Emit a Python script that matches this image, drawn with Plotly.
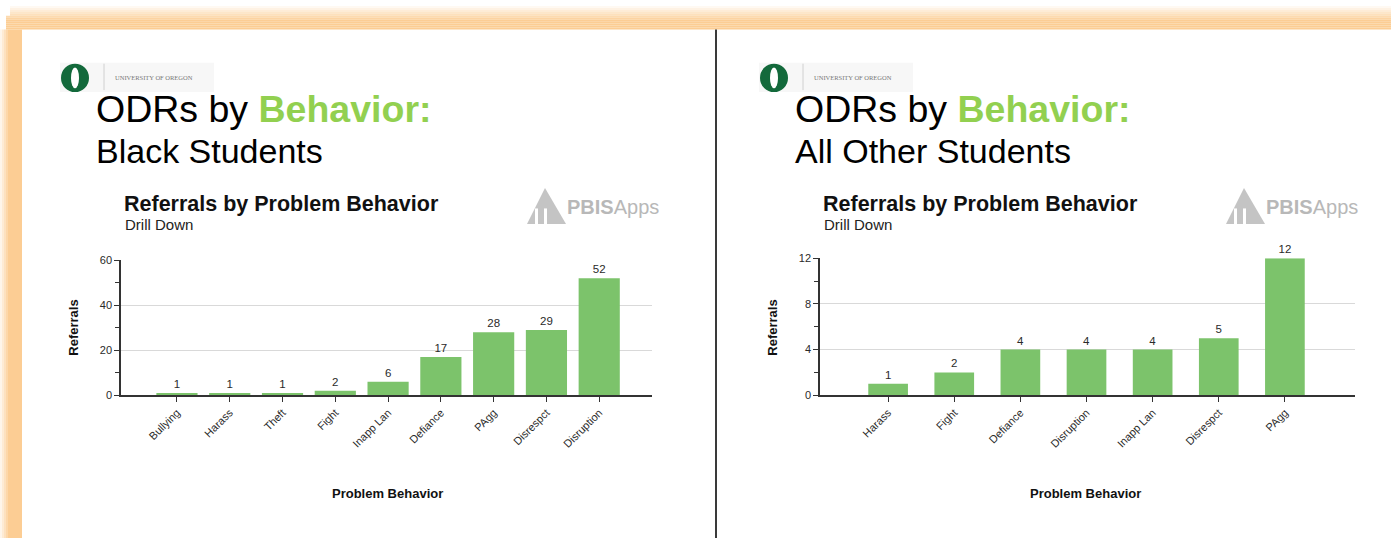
import plotly.graph_objects as go

W, H = 1391, 544

# ---- data ----
black_categories = ["Bullying", "Harass", "Theft", "Fight", "Inapp Lan", "Defiance", "PAgg", "Disrespct", "Disruption"]
black_referrals = [1, 1, 1, 2, 6, 17, 28, 29, 52]
black_yticks = [0, 20, 40, 60]

other_categories = ["Harass", "Fight", "Defiance", "Disruption", "Inapp Lan", "Disrespct", "PAgg"]
other_referrals = [1, 2, 4, 4, 4, 5, 12]
other_yticks = [0, 4, 8, 12]

FONT = "Arial, 'Liberation Sans', sans-serif"
BAR = "#7cc36b"
TXT = "#2a2a2a"
AX = "#333333"


def px(x):
    return x / W


def py(y):
    return 1 - y / H


fig = go.Figure()

fig.add_trace(go.Bar(
    x=black_categories, y=black_referrals, xaxis="x", yaxis="y",
    marker=dict(color=BAR, line=dict(width=0)), width=0.78,
    texttemplate="%{y}", textposition="outside", cliponaxis=False,
    textfont=dict(size=11.5, color=TXT, family=FONT), showlegend=False,
))
fig.add_trace(go.Bar(
    x=other_categories, y=other_referrals, xaxis="x2", yaxis="y2",
    marker=dict(color=BAR, line=dict(width=0)), width=0.6,
    texttemplate="%{y}", textposition="outside", cliponaxis=False,
    textfont=dict(size=11.5, color=TXT, family=FONT), showlegend=False,
))


def xax(domain, cats, rng):
    return dict(
        domain=domain, type="category", categoryorder="array", categoryarray=cats,
        range=rng, showline=True, linecolor=AX, linewidth=1.5, ticks="outside",
        ticklen=5, tickcolor=AX, tickwidth=1.2, tickangle=-45, showgrid=False,
        tickfont=dict(size=11, color=TXT, family=FONT), zeroline=False, fixedrange=True,
    )


def yax(domain, anchor, rng, ticks, minor_dt):
    return dict(
        domain=domain, anchor=anchor, range=rng, tickvals=ticks, showgrid=True,
        gridcolor="#d9d9d9", gridwidth=1, showline=True, linecolor=AX, linewidth=1.5,
        ticks="outside", ticklen=5, tickcolor=AX, tickwidth=1.2, zeroline=False,
        tickfont=dict(size=11, color=TXT, family=FONT),
        minor=dict(dtick=minor_dt, ticks="outside", ticklen=4, tickcolor=AX, showgrid=False),
        fixedrange=True,
    )


layout = dict(
    width=W, height=H, margin=dict(l=0, r=0, t=0, b=0),
    paper_bgcolor="white", plot_bgcolor="white", bargap=0.2,
    font=dict(family=FONT, color=TXT),
    xaxis=xax([px(121), px(652)], black_categories, [-1.06, 9.0]),
    yaxis=yax([py(398), py(260)], "x", [0, 60], black_yticks, 10),
    xaxis2=xax([px(820), px(1355)], other_categories, [-1.03, 7.06]),
    yaxis2=yax([py(398), py(258)], "x2", [0, 12], other_yticks, 2),
)
layout["xaxis"]["anchor"] = "y"
layout["xaxis2"]["anchor"] = "y2"
fig.update_layout(**layout)

shapes = []
anns = []

# ---- orange frame (gradient) ----
ORANGE = (252, 205, 148)
n = 12
for i in range(n):
    a = min(1.0, (i + 1) / 8)
    y0 = i * 2
    shapes.append(dict(type="rect", xref="paper", yref="paper", layer="above",
                       x0=px(10 if i < 5 else 6), x1=1, y0=py(y0 + 2), y1=py(y0),
                       fillcolor=f"rgba({ORANGE[0]},{ORANGE[1]},{ORANGE[2]},{a:.3f})",
                       line=dict(width=0)))
for i in range(11):
    a = min(1.0, (i + 1) / 5)
    x0 = i * 2
    shapes.append(dict(type="rect", xref="paper", yref="paper", layer="above",
                       x0=px(x0), x1=px(x0 + 2), y0=0, y1=py(24),
                       fillcolor=f"rgba({ORANGE[0]},{ORANGE[1]},{ORANGE[2]},{a:.3f})",
                       line=dict(width=0)))

# divider between slides
shapes.append(dict(type="line", xref="paper", yref="paper", x0=px(716), x1=px(716),
                   y0=0, y1=py(24), line=dict(color="#3a3a3a", width=2)))


def slide(ox, title2, chart_cx):
    # UO logo
    shapes.append(dict(type="rect", xref="paper", yref="paper", x0=px(ox + 60), x1=px(ox + 214),
                       y0=py(88), y1=py(58), fillcolor="#f7f7f7", line=dict(width=0), layer="below"))
    shapes.append(dict(type="circle", xref="paper", yref="paper", x0=px(ox + 61), x1=px(ox + 89),
                       y0=py(88), y1=py(59), fillcolor="#13693b", line=dict(width=0)))
    shapes.append(dict(type="circle", xref="paper", yref="paper", x0=px(ox + 71), x1=px(ox + 79),
                       y0=py(84), y1=py(63), fillcolor="white", line=dict(width=0)))
    shapes.append(dict(type="line", xref="paper", yref="paper", x0=px(ox + 104), x1=px(ox + 104),
                       y0=py(86), y1=py(59), line=dict(color="#d0d0d0", width=1)))
    anns.append(dict(x=px(ox + 113), y=py(73), xref="paper", yref="paper", xanchor="left",
                     yanchor="middle", showarrow=False, text="UNIVERSITY OF OREGON",
                     font=dict(size=6.5, color="#777777", family="'Liberation Serif', 'DejaVu Serif', serif")))
    # slide title
    anns.append(dict(x=px(ox + 94), y=py(105), xref="paper", yref="paper", xanchor="left",
                     yanchor="middle", showarrow=False,
                     text="ODRs by <b><span style='color:#92d050'>Behavior:</span></b>",
                     font=dict(size=37.5, color="black", family=FONT)))
    anns.append(dict(x=px(ox + 94), y=py(148), xref="paper", yref="paper", xanchor="left",
                     yanchor="middle", showarrow=False, text=title2,
                     font=dict(size=34, color="black", family=FONT)))
    # chart title
    anns.append(dict(x=px(ox + 122), y=py(202), xref="paper", yref="paper", xanchor="left",
                     yanchor="middle", showarrow=False, text="<b>Referrals by Problem Behavior</b>",
                     font=dict(size=21.5, color="#111111", family=FONT)))
    anns.append(dict(x=px(ox + 123), y=py(223), xref="paper", yref="paper", xanchor="left",
                     yanchor="middle", showarrow=False, text="Drill Down",
                     font=dict(size=15, color="#222222", family=FONT)))
    # PBISApps mark
    shapes.append(dict(type="path", xref="paper", yref="paper",
                       path=f"M {px(ox+527)},{py(223)} L {px(ox+545)},{py(186)} L {px(ox+566)},{py(223)} Z",
                       fillcolor="#c4c4c4", line=dict(width=0)))
    shapes.append(dict(type="rect", xref="paper", yref="paper", x0=px(ox + 535), x1=px(ox + 538),
                       y0=py(223), y1=py(207), fillcolor="white", line=dict(width=0)))
    shapes.append(dict(type="rect", xref="paper", yref="paper", x0=px(ox + 544), x1=px(ox + 547),
                       y0=py(223), y1=py(207), fillcolor="white", line=dict(width=0)))
    anns.append(dict(x=px(ox + 565), y=py(206), xref="paper", yref="paper", xanchor="left",
                     yanchor="middle", showarrow=False, text="<b>PBIS</b>Apps",
                     font=dict(size=20, color="#b8b8b8", family=FONT)))
    # axis titles
    anns.append(dict(x=px(chart_cx), y=py(499), xref="paper", yref="paper", xanchor="center",
                     yanchor="middle", showarrow=False, text="<b>Problem Behavior</b>",
                     font=dict(size=13, color="#111111", family=FONT)))
    anns.append(dict(x=px(ox + 74), y=py(329), xref="paper", yref="paper", xanchor="center",
                     yanchor="middle", showarrow=False, text="<b>Referrals</b>", textangle=-90,
                     font=dict(size=13, color="#111111", family=FONT)))


slide(0, "Black Students", 387)
slide(699, "All Other Students", 1085)

fig.update_layout(shapes=shapes, annotations=anns)
fig.write_html("out.html", config={"displayModeBar": False},
               post_script="document.body.style.margin='0';document.body.style.overflow='hidden';")
